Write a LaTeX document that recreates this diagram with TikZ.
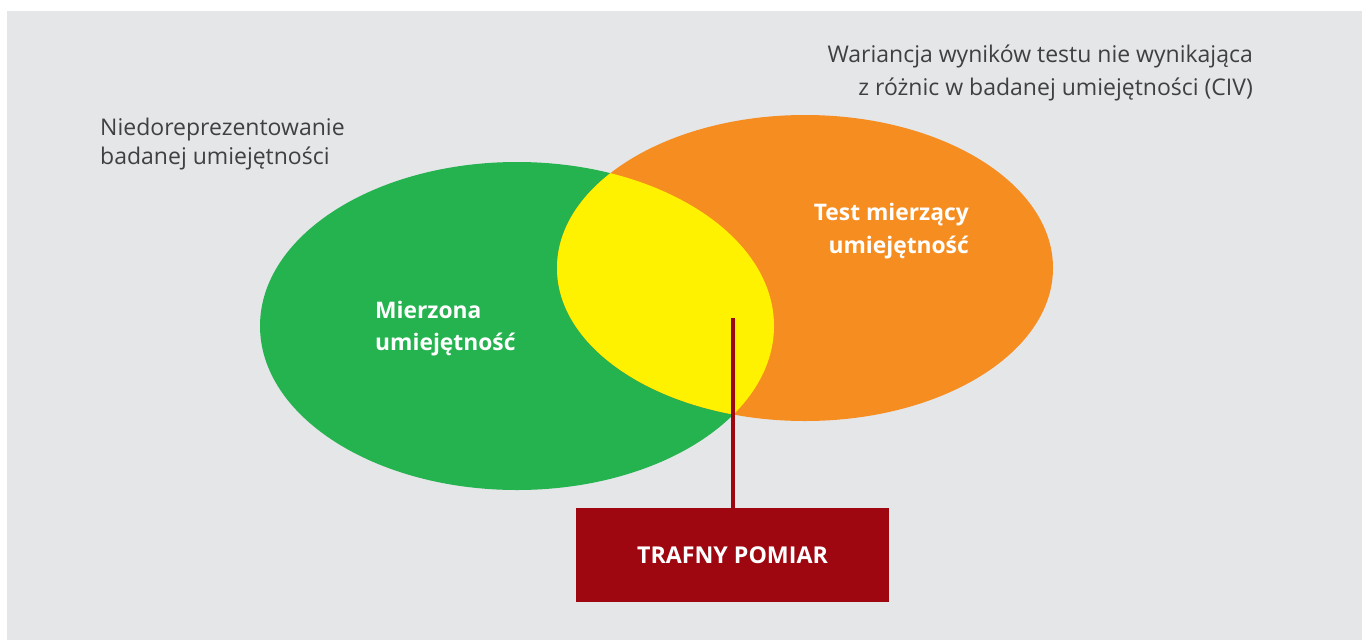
\documentclass[tikz,border=0pt]{standalone}
\usepackage{fontspec}
\setmainfont{Open Sans}
\definecolor{bggray}{HTML}{E5E6E8}
\definecolor{vgreen}{HTML}{24B34F}
\definecolor{vorange}{HTML}{F68D21}
\definecolor{vyellow}{HTML}{FFF200}
\definecolor{vred}{HTML}{9E0710}
\definecolor{txtgray}{HTML}{404042}
\tikzset{
  graytext/.style={text=txtgray, inner sep=0pt, font=\fontsize{23}{30}\selectfont},
  whitelabel/.style={text=white, inner sep=0pt, font=\fontsize{22.8}{32}\selectfont\bfseries},
  resultbox/.style={fill=vred, text=white, inner sep=0pt, minimum width=313pt, minimum height=94pt, font=\fontsize{23.2}{28}\selectfont\bfseries},
  leader/.style={draw=vred, line width=4pt}
}
\begin{document}
\begin{tikzpicture}[x=1pt,y=-1pt]
\useasboundingbox (0,0) rectangle (1362,640);
\fill[white] (0,0) rectangle (1362,640);
\fill[bggray] (7,11) rectangle (1362,640);
% ellipses
\fill[vgreen] (517,326) ellipse [x radius=257, y radius=164];
\fill[vorange] (805,268) ellipse [x radius=248, y radius=153];
\begin{scope}
  \clip (517,326) ellipse [x radius=257, y radius=164];
  \fill[vyellow] (805,268) ellipse [x radius=248, y radius=153];
\end{scope}
% labels
\node[graytext, anchor=base west] (n1) at (100,135) {Niedoreprezentowanie};
\node[graytext, anchor=base west] (n2) at (100,164) {badanej umiejętności};
\node[graytext, anchor=base east] (w1) at (1253,62) {Wariancja wyników testu nie wynikająca};
\node[graytext, anchor=base east] (w2) at (1253,95) {z różnic w badanej umiejętności (CIV)};
\node[whitelabel, anchor=base west] (m1) at (375,318) {Mierzona};
\node[whitelabel, anchor=base west] (m2) at (375,350) {umiejętność};
\node[whitelabel, anchor=base east] (t1) at (969,220) {Test mierzący};
\node[whitelabel, anchor=base east] (t2) at (969,253) {umiejętność};
% result box and leader
\node[resultbox] (tp) at (732.5,555) {TRAFNY POMIAR};
\coordinate (lt) at (733,318);
\draw[leader] (lt) -- (lt |- tp.north);
\end{tikzpicture}
\end{document}
